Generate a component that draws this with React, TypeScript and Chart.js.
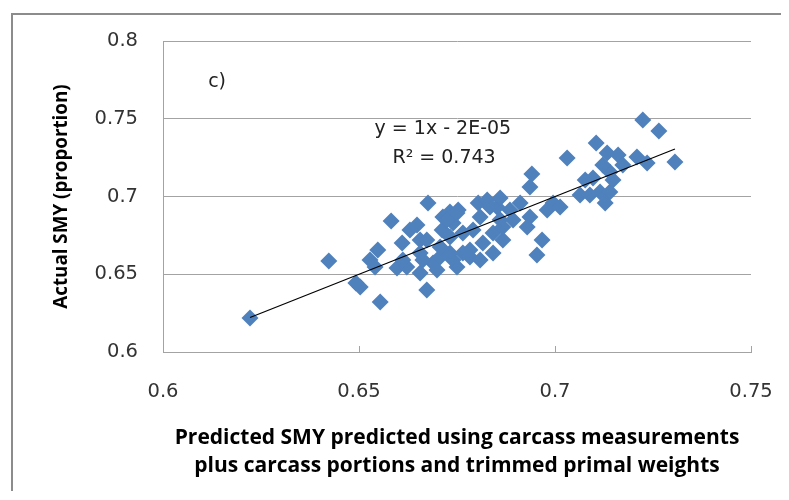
import React, { useEffect, useRef } from 'react';
import { Chart, registerables } from 'chart.js';

Chart.register(...registerables);

// Predicted SMY (x) and actual SMY (y)
const predicted = [
  0.6222, 0.6423, 0.6503, 0.6492, 0.6554, 0.6528, 0.6548, 0.6541, 0.6582, 0.6597,
  0.6610, 0.6622, 0.6630, 0.6648, 0.6656, 0.6656, 0.6612, 0.6656, 0.6673, 0.6676,
  0.6689, 0.6673, 0.6699, 0.6714, 0.6732, 0.6753, 0.6740, 0.6712, 0.6732, 0.6765,
  0.6707, 0.6732, 0.6765, 0.6750, 0.6707, 0.6724, 0.6750, 0.6783, 0.6740, 0.6804,
  0.6827, 0.6809, 0.6791, 0.6816, 0.6783, 0.6842, 0.6842, 0.6809, 0.6852, 0.6834,
  0.6860, 0.6860, 0.6893, 0.6885, 0.6911, 0.6867, 0.6867, 0.6941, 0.6936, 0.6936,
  0.6929, 0.6967, 0.6954, 0.6980, 0.6995, 0.7013, 0.7031, 0.7064, 0.7089, 0.7077,
  0.7097, 0.7105, 0.7115, 0.7140, 0.7128, 0.7148, 0.7140, 0.7122, 0.7133, 0.7161,
  0.7173, 0.7209, 0.7235, 0.7224, 0.7265, 0.7306, 0.6663,
];
const actual = [
  0.6219, 0.6585, 0.6418, 0.6444, 0.6322, 0.6592, 0.6656, 0.6547, 0.6842, 0.6540,
  0.6701, 0.6547, 0.6785, 0.6817, 0.6720, 0.6637, 0.6592, 0.6508, 0.6399, 0.6958,
  0.6572, 0.6720, 0.6527, 0.6868, 0.6900, 0.6913, 0.6830, 0.6785, 0.6740, 0.6765,
  0.6611, 0.6637, 0.6637, 0.6547, 0.6675, 0.6849, 0.6894, 0.6611, 0.6592, 0.6958,
  0.6977, 0.6868, 0.6785, 0.6701, 0.6656, 0.6765, 0.6637, 0.6592, 0.6932, 0.6932,
  0.6850, 0.6990, 0.6849, 0.6913, 0.6958, 0.6720, 0.6804, 0.7145, 0.7061, 0.6868,
  0.6804, 0.6720, 0.6624, 0.6913, 0.6958, 0.6932, 0.7248, 0.7010, 0.7010, 0.7106,
  0.7119, 0.7344, 0.7029, 0.7029, 0.6958, 0.7106, 0.7158, 0.7203, 0.7280, 0.7267,
  0.7203, 0.7254, 0.7215, 0.7492, 0.7421, 0.7222, 0.6592,
];

const xTicks = [0.6, 0.65, 0.7, 0.75];
const yTicks = [0.6, 0.65, 0.7, 0.75, 0.8];
const xTickLabels = ['0.6', '0.65', '0.7', '0.75'];
const yTickLabels = ['0.6', '0.65', '0.7', '0.75', '0.8'];

const trendSlope = 1;
const trendIntercept = -0.00002;
const equationText = 'y = 1x - 2E-05';
const r2Text = 'R\u00B2 = 0.743';
const panelLabel = 'c)';
const yTitle = 'Actual SMY (proportion)';
const xTitle = [
  'Predicted SMY predicted using carcass measurements',
  'plus carcass portions and trimmed primal weights',
];

const GRID = '#a3a3a3';
const TICK_FONT = { family: '"DejaVu Sans"', size: 19.5 };

export default function App() {
  const canvasRef = useRef<HTMLCanvasElement | null>(null);

  useEffect(() => {
    const canvas = canvasRef.current;
    if (!canvas) return;

    const points = predicted.map((p, i) => ({ x: p, y: actual[i] }));
    const xMin = Math.min(...predicted);
    const xMax = Math.max(...predicted);
    const trend = [
      { x: xMin, y: trendSlope * xMin + trendIntercept },
      { x: xMax, y: trendSlope * xMax + trendIntercept },
    ];

    const annotate = {
      id: 'annotate',
      afterDraw(chart: any) {
        const { ctx, chartArea } = chart;
        const xs = chart.scales.x;
        const ys = chart.scales.y;
        ctx.save();
        ctx.strokeStyle = GRID;
        ctx.lineWidth = 1;
        xTicks.forEach((v) => {
          const px = Math.round(xs.getPixelForValue(v)) + 0.5;
          ctx.beginPath();
          ctx.moveTo(px, chartArea.bottom);
          ctx.lineTo(px, chartArea.bottom - 6);
          ctx.stroke();
        });
        ctx.fillStyle = '#222';
        ctx.font = '19px "DejaVu Sans"';
        ctx.textAlign = 'center';
        ctx.textBaseline = 'middle';
        ctx.fillText(panelLabel, xs.getPixelForValue(0.6138), ys.getPixelForValue(0.7736));
        ctx.fillText(equationText, xs.getPixelForValue(0.6714), ys.getPixelForValue(0.7434));
        ctx.fillText(r2Text, xs.getPixelForValue(0.6717), ys.getPixelForValue(0.7248));
        ctx.restore();
      },
    };

    const chart = new Chart(canvas, {
      type: 'scatter',
      data: {
        datasets: [
          {
            label: 'SMY',
            data: points,
            pointStyle: 'rectRot',
            pointRadius: 8.5,
            pointBackgroundColor: '#4F81BD',
            pointBorderWidth: 0,
            order: 2,
          },
          {
            type: 'line',
            label: 'Linear',
            data: trend,
            borderColor: '#000000',
            borderWidth: 1.2,
            pointRadius: 0,
            fill: false,
            order: 1,
          } as any,
        ],
      },
      options: {
        responsive: false,
        animation: false,
        events: [],
        layout: { autoPadding: false, padding: { top: 26, right: 30, left: 0, bottom: 0 } },
        plugins: {
          legend: { display: false },
          tooltip: { enabled: false },
          title: { display: false },
        },
        scales: {
          x: {
            type: 'linear',
            min: 0.6,
            max: 0.75,
            afterBuildTicks: (s: any) => {
              s.ticks = xTicks.map((v) => ({ value: v }));
            },
            afterFit: (s: any) => {
              s.height = 139;
            },
            grid: { display: false, drawTicks: true, tickLength: 28 },
            border: { display: true, color: GRID, width: 1 },
            ticks: {
              padding: 0,
              color: '#333',
              font: TICK_FONT,
              maxRotation: 0,
              callback: (v: any) => {
                const i = xTicks.findIndex((t) => Math.abs(t - Number(v)) < 1e-6);
                return i >= 0 ? xTickLabels[i] : '';
              },
            },
            title: {
              display: true,
              text: xTitle,
              color: '#000',
              font: { family: '"Open Sans"', size: 21, weight: 'bold', lineHeight: '28px' },
              padding: { top: 0, bottom: 11 },
            },
          },
          y: {
            type: 'linear',
            min: 0.6,
            max: 0.8,
            afterBuildTicks: (s: any) => {
              s.ticks = yTicks.map((v) => ({ value: v }));
            },
            afterFit: (s: any) => {
              s.width = 150;
            },
            grid: {
              color: GRID,
              lineWidth: 1,
              drawTicks: true,
              tickLength: 25,
              tickColor: 'rgba(0,0,0,0)',
            },
            border: { display: true, color: GRID, width: 1 },
            ticks: {
              padding: 0,
              color: '#333',
              font: TICK_FONT,
              callback: (v: any) => {
                const i = yTicks.findIndex((t) => Math.abs(t - Number(v)) < 1e-6);
                return i >= 0 ? yTickLabels[i] : '';
              },
            },
            title: {
              display: true,
              text: yTitle,
              color: '#000',
              font: { family: '"Open Sans"', size: 18.8, weight: 'bold', lineHeight: 1.2 },
              padding: { top: 37, bottom: 0 },
            },
          },
        },
      },
      plugins: [annotate],
    });

    return () => chart.destroy();
  }, []);

  return (
    <div style={{ paddingTop: 5, paddingLeft: 3 }}>
      <div
        style={{
          borderTop: '2px solid #8c8c8c',
          borderLeft: '2px solid #8c8c8c',
          width: 768,
          height: 476,
        }}
      >
        <canvas
          ref={canvasRef}
          width={768}
          height={476}
          style={{ display: 'block', width: 768, height: 476 }}
        />
      </div>
    </div>
  );
}
